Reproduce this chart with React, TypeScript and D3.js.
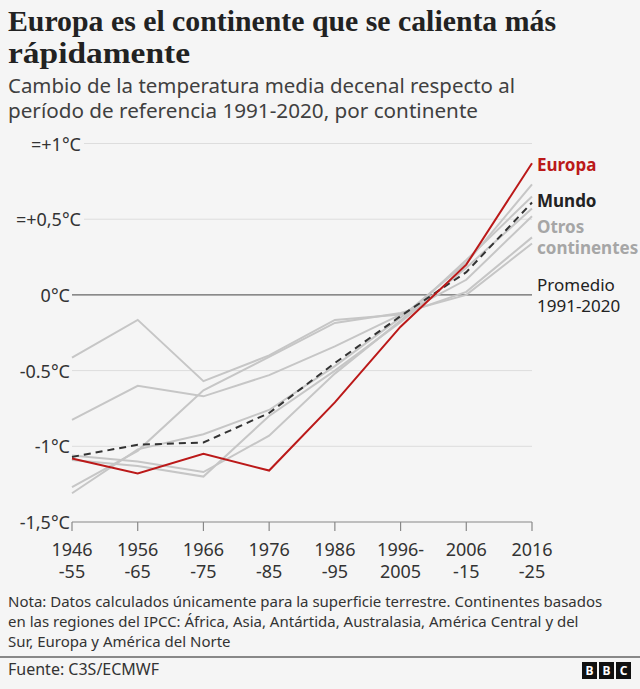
import React, { useEffect } from "react";
import * as d3 from "d3";

const periodTop = ["1946", "1956", "1966", "1976", "1986", "1996-", "2006", "2016"];
const periodBottom = ["-55", "-65", "-75", "-85", "-95", "2005", "-15", "-25"];
const periods = periodTop.map((t, i) => `${t}${periodBottom[i]}`);

const europa = [-1.08, -1.18, -1.05, -1.16, -0.71, -0.21, 0.2, 0.87];
const mundo = [-1.07, -0.99, -0.975, -0.78, -0.45, -0.14, 0.15, 0.61];
const otroA = [-0.415, -0.165, -0.57, -0.4, -0.165, -0.13, 0.02, 0.38];
const otroB = [-0.825, -0.6, -0.67, -0.53, -0.34, -0.13, 0.1, 0.52];
const otroC = [-1.06, -1.1, -1.17, -0.93, -0.52, -0.17, 0.23, 0.65];
const otroD = [-1.09, -1.13, -1.2, -0.8, -0.5, -0.18, 0.18, 0.57];
const otroE = [-1.27, -1.03, -0.63, -0.41, -0.185, -0.12, 0.0, 0.34];
const otroF = [-1.31, -1.02, -0.92, -0.76, -0.47, -0.15, 0.21, 0.73];
const otros = [otroA, otroB, otroC, otroD, otroE, otroF];

const yTicks = [1, 0.5, 0, -0.5, -1, -1.5];
const yTickLabels = ["=+1°C", "=+0,5°C", "0°C", "-0.5°C", "-1°C", "-1,5°C"];

const titleLines = ["Europa es el continente que se calienta más", "rápidamente"];
const titleWidths = [548, 182];
const subtitleLines = [
  "Cambio de la temperatura media decenal respecto al",
  "período de referencia 1991-2020, por continente",
];
const subtitleWidths = [507, 470];
const noteLines = [
  "Nota: Datos calculados únicamente para la superficie terrestre. Continentes basados",
  "en las regiones del IPCC: África, Asia, Antártida, Australasia, América Central y del",
  "Sur, Europa y América del Norte",
];
const source = "Fuente: C3S/ECMWF";

const W = 640;
const H = 689;
const SANS = "'Noto Sans', 'Open Sans', sans-serif";
const SERIF = "'Liberation Serif', 'DejaVu Serif', serif";

export default function App() {
  useEffect(() => {
    document.body.style.margin = "0";
    document.body.style.background = "#f5f5f5";
  }, []);

  const x = d3.scalePoint<string>().domain(periods).range([72, 532]);
  const y = d3.scaleLinear().domain([-1.5, 1]).range([522, 143.5]);
  const line = d3
    .line<number>()
    .x((_, i) => x(periods[i]) as number)
    .y((d) => y(d));

  return (
    <svg width={W} height={H} style={{ display: "block", background: "#f5f5f5" }}>
      <rect x={0} y={0} width={W} height={H} fill="#f5f5f5" />
      {titleLines.map((t, i) => (
        <text
          key={t}
          x={8}
          y={31 + i * 32}
          fontFamily={SERIF}
          fontWeight={700}
          fontSize={28.5}
          fill="#222"
          textLength={titleWidths[i]}
          lengthAdjust="spacingAndGlyphs"
        >
          {t}
        </text>
      ))}
      {subtitleLines.map((t, i) => (
        <text
          key={t}
          x={8}
          y={93 + i * 25}
          fontFamily={SANS}
          fontSize={20}
          fill="#404040"
          textLength={subtitleWidths[i]}
          lengthAdjust="spacingAndGlyphs"
        >
          {t}
        </text>
      ))}

      {/* grid */}
      {yTicks.map((v) => {
        if (v === -1.5) return null;
        const start = v > 0 ? 84 : 72;
        return (
          <line
            key={`g${v}`}
            x1={start}
            x2={532}
            y1={y(v)}
            y2={y(v)}
            stroke={v === 0 ? "#666" : "#dddddd"}
            strokeWidth={v === 0 ? 1.2 : 1}
          />
        );
      })}
      {yTicks.map((v, i) => (
        <text
          key={`t${v}`}
          x={v > 0 ? 81 : 70}
          y={y(v) + 7}
          textAnchor="end"
          fontFamily={SANS}
          fontSize={18}
          fill="#333"
        >
          {yTickLabels[i]}
        </text>
      ))}

      {/* x axis */}
      <line x1={72} x2={532} y1={522} y2={522} stroke="#888" strokeWidth={1.2} />
      {periods.map((p, i) => (
        <g key={p} transform={`translate(${x(p)},0)`}>
          <line y1={522} y2={531} stroke="#888" strokeWidth={1.2} />
          <text y={556} textAnchor="middle" fontFamily={SANS} fontSize={18} fill="#333">
            {periodTop[i]}
          </text>
          <text y={578} textAnchor="middle" fontFamily={SANS} fontSize={18} fill="#333">
            {periodBottom[i]}
          </text>
        </g>
      ))}

      {/* lines */}
      {otros.map((s, i) => (
        <path key={`o${i}`} d={line(s) || ""} fill="none" stroke="#c6c6c6" strokeWidth={2} />
      ))}
      <path
        d={line(mundo) || ""}
        fill="none"
        stroke="#333"
        strokeWidth={2}
        strokeDasharray="7,5"
      />
      <path d={line(europa) || ""} fill="none" stroke="#bb1919" strokeWidth={2} />

      {/* labels */}
      <text x={537} y={171} fontFamily={SANS} fontWeight={700} fontSize={17} fill="#bb1919">
        Europa
      </text>
      <text x={537} y={207} fontFamily={SANS} fontWeight={700} fontSize={17} fill="#222">
        Mundo
      </text>
      <text x={537} y={233} fontFamily={SANS} fontWeight={700} fontSize={17} fill="#a6a6a6">
        Otros
      </text>
      <text x={537} y={254} fontFamily={SANS} fontWeight={700} fontSize={17} fill="#a6a6a6">
        continentes
      </text>
      <text x={537} y={291} fontFamily={SANS} fontSize={17} fill="#222">
        Promedio
      </text>
      <text x={537} y={312} fontFamily={SANS} fontSize={17} fill="#222">
        1991-2020
      </text>

      {/* note */}
      {noteLines.map((t, i) => (
        <text key={t} x={8} y={607 + i * 20} fontFamily={SANS} fontSize={15} fill="#333">
          {t}
        </text>
      ))}
      <line x1={0} x2={W} y1={657} y2={657} stroke="#888" strokeWidth={2} />
      <text x={8} y={675} fontFamily={SANS} fontSize={16} fill="#333">
        {source}
      </text>
      {["B", "B", "C"].map((c, i) => (
        <g key={i} transform={`translate(${582 + i * 17},662)`}>
          <rect width={15} height={17} fill="#111" />
          <text
            x={7.5}
            y={13}
            textAnchor="middle"
            fontFamily={SANS}
            fontWeight={700}
            fontSize={12}
            fill="#fff"
          >
            {c}
          </text>
        </g>
      ))}
    </svg>
  );
}
